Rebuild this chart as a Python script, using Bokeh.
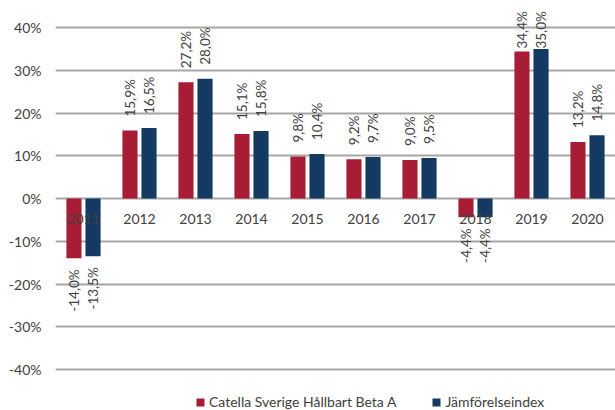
import math
from bokeh.plotting import figure
from bokeh.models import (ColumnDataSource, FactorRange, Range1d, FixedTicker,
                          PrintfTickFormatter, Legend, LegendItem)
from bokeh.transform import dodge
from bokeh.core.properties import value
from bokeh.embed import file_html
from bokeh.resources import INLINE

years = ["2011", "2012", "2013", "2014", "2015", "2016", "2017", "2018", "2019", "2020"]
fund = [-14.0, 15.9, 27.2, 15.1, 9.8, 9.2, 9.0, -4.4, 34.4, 13.2]
index = [-13.5, 16.5, 28.0, 15.8, 10.4, 9.7, 9.5, -4.4, 35.0, 14.8]
series_names = ["Catella Sverige Hållbart Beta A", "Jämförelseindex"]
y_ticks = [-40, -30, -20, -10, 0, 10, 20, 30, 40]

RED = "#A91C35"
BLUE = "#143A63"
TXT = "#404040"
FONT = "Lato"

p = figure(width=615, height=410, output_backend="svg", toolbar_location=None,
           x_range=FactorRange(*years, range_padding=0), y_range=Range1d(-49.59, 46.32),
           min_border_left=55, min_border_right=0, min_border_top=0, min_border_bottom=0)
p.outline_line_color = None
p.background_fill_color = "white"
p.border_fill_color = "white"

p.xaxis.visible = False
p.xgrid.grid_line_color = None
p.ygrid.grid_line_color = "#A6A6A6"
p.ygrid.grid_line_width = 2
p.yaxis.ticker = FixedTicker(ticks=y_ticks)
p.yaxis.formatter = PrintfTickFormatter(format="%d%%")
p.yaxis.axis_line_color = None
p.yaxis.major_tick_line_color = None
p.yaxis.minor_tick_line_color = None
p.yaxis.major_tick_out = 0
p.yaxis.major_label_standoff = 14
p.yaxis.major_label_text_font = FONT
p.yaxis.major_label_text_font_size = "14px"
p.yaxis.major_label_text_color = TXT

def fmt(v):
    return f"{v:.1f}".replace(".", ",") + "%"

renderers = []
for vals, color, off in [(fund, RED, -0.17), (index, BLUE, 0.17)]:
    ly = [min(v, 31.8) if v >= 0 else v for v in vals]
    src = ColumnDataSource(dict(
        x=years, top=vals, ly=ly,
        label=[fmt(v) for v in vals],
        align=["left" if v >= 0 else "right" for v in vals],
        yoff=[-14 if v >= 0 else 11 for v in vals],
    ))
    r = p.vbar(x=dodge("x", off, range=p.x_range), top="top", bottom=0, width=0.27,
               source=src, fill_color=color, line_color=None)
    renderers.append(r)
    p.text(x=dodge("x", off, range=p.x_range), y="ly", text="label", source=src,
           angle=math.pi / 2, text_align="align", text_baseline="middle",
           y_offset="yoff", text_font=value(FONT), text_font_size="13.5px",
           text_color=TXT)

ysrc = ColumnDataSource(dict(x=years, y=[0] * len(years)))
p.text(x="x", y="y", text="x", source=ysrc, y_offset=20, text_align="center",
       text_baseline="middle", text_font=value(FONT), text_font_size="14px",
       text_color=TXT)

legend = Legend(items=[LegendItem(label=series_names[0], renderers=[renderers[0]]),
                       LegendItem(label=series_names[1], renderers=[renderers[1]])],
                orientation="horizontal", location=(140, 0),
                glyph_width=10, glyph_height=10, label_height=14, label_standoff=4,
                spacing=35, padding=0, margin=0, border_line_color=None,
                background_fill_alpha=0, label_text_font=FONT,
                label_text_font_size="14px", label_text_color=TXT)
p.add_layout(legend, "center")

open("out.html", "w").write(file_html(p, INLINE))
